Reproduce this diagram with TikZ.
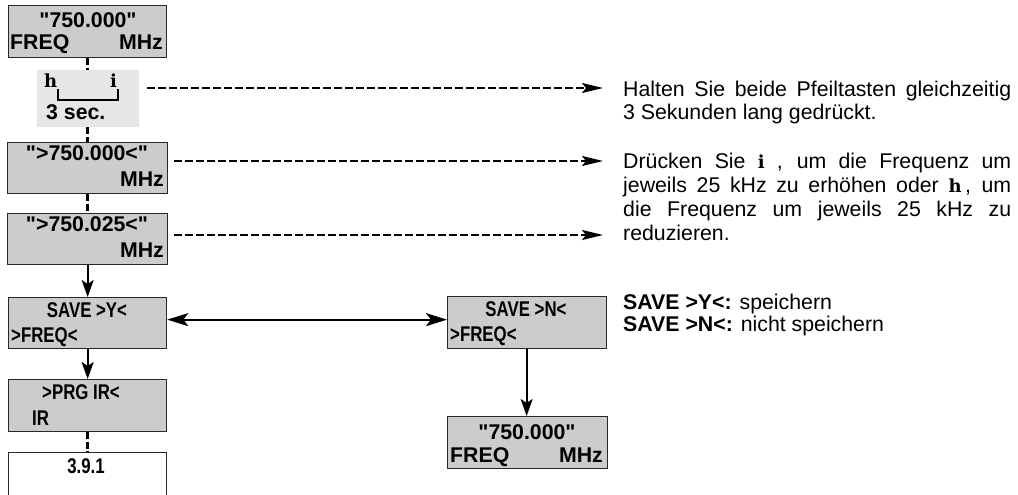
\documentclass[tikz,border=0pt]{standalone}
\usepackage{fontspec}
\usetikzlibrary{arrows.meta}
\newfontfamily\plainsf{Liberation Sans}
\newfontfamily\condsf[FakeStretch=0.79]{Liberation Sans}
\newfontfamily\keyserif{DejaVu Serif}
\newcommand\keyglyph[1]{{\keyserif\bfseries\fontsize{18}{24}\selectfont #1}}
\definecolor{boxgray}{RGB}{204,204,204}
\definecolor{lightbox}{RGB}{230,230,230}
\definecolor{edge}{RGB}{40,40,40}
\tikzset{
  lcdbox/.style={draw=edge, line width=1.3pt, fill=boxgray, inner sep=0pt, anchor=north west},
  plainbox/.style={draw=edge, line width=1.3pt, fill=white, inner sep=0pt, anchor=north west},
  keybox/.style={fill=lightbox, inner sep=0pt, anchor=north west},
  wtxt/.style={inner sep=0pt, font=\plainsf\bfseries\fontsize{21.3}{24}\selectfont},
  ntxt/.style={inner sep=0pt, font=\condsf\bfseries\fontsize{21.3}{24}\selectfont},
  rtxt/.style={inner sep=0pt, anchor=base west, font=\plainsf\fontsize{21.3}{24}\selectfont},
  dashlink/.style={line width=2.4pt, dash pattern=on 7pt off 2.5pt},
  solidarrow/.style={line width=2pt, -{Stealth[length=17pt,width=12pt,inset=4pt]}},
  dasharrow/.style={line width=2pt, dash pattern=on 8pt off 3pt, -{Stealth[length=21pt,width=10pt,inset=4pt]}},
  twoarrow/.style={line width=2pt, {Stealth[length=21pt,width=13pt,inset=5pt]}-{Stealth[length=21pt,width=13pt,inset=5pt]}}
}
\begin{document}
\begin{tikzpicture}[x=1pt,y=-1pt]
\clip (0,0) rectangle (1018,495);
\fill[white] (0,0) rectangle (1018,495);

% left column
\node[lcdbox, minimum width=158pt, minimum height=52pt] (b1) at (8,5) {};
\node[wtxt, anchor=base] (b1a) at (88,28) {"750.000"};
\node[wtxt, anchor=base west] (b1b) at (10,50) {FREQ};
\node[wtxt, anchor=base east] (b1c) at (163,50) {MHz};

\node[keybox, minimum width=102pt, minimum height=57pt] (k) at (37,70) {};
\node[inner sep=0pt, anchor=base west] (kh) at (44,88) {\keyglyph{h}};
\node[inner sep=0pt, anchor=base west] (ki) at (110,88) {\keyglyph{i}};
\draw[line width=1.6pt] ([xshift=0.5pt,yshift=-1pt]kh.base east) -- ++(0,11) -| ([xshift=1pt,yshift=-1pt]ki.base east);
\node[wtxt, anchor=base west] (ks) at (46,120) {3 sec.};

\node[lcdbox, minimum width=160pt, minimum height=51pt] (b2) at (7,142) {};
\node[wtxt, anchor=base] (b2a) at (87,160) {">750.000<"};
\node[wtxt, anchor=base east] (b2b) at (164,186) {MHz};

\node[lcdbox, minimum width=160pt, minimum height=51pt] (b3) at (7,213) {};
\node[wtxt, anchor=base] (b3a) at (87,231) {">750.025<"};
\node[wtxt, anchor=base east] (b3b) at (164,257) {MHz};

\node[lcdbox, minimum width=158pt, minimum height=51pt] (sy) at (8,297) {};
\node[ntxt, anchor=base] (sya) at (87,317) {SAVE >Y<};
\node[ntxt, anchor=base west] (syb) at (11,342) {>FREQ<};

\node[lcdbox, minimum width=158pt, minimum height=52pt] (prg) at (8,379) {};
\node[ntxt, anchor=base west] (prga) at (42,399) {>PRG IR<};
\node[ntxt, anchor=base west] (prgb) at (32,425) {IR};

\node[plainbox, minimum width=158pt, minimum height=60pt] (end) at (8,452) {};
\node[ntxt, anchor=base] (enda) at (86,473) {3.9.1};

% right column
\node[lcdbox, minimum width=159pt, minimum height=52pt] (sn) at (447,296) {};
\node[ntxt, anchor=base] (sna) at (526,316) {SAVE >N<};
\node[ntxt, anchor=base west] (snb) at (450,341) {>FREQ<};

\node[lcdbox, minimum width=160pt, minimum height=52pt] (fin) at (447,416) {};
\node[wtxt, anchor=base] (fina) at (527,439) {"750.000"};
\node[wtxt, anchor=base west] (finb) at (450,462) {FREQ};
\node[wtxt, anchor=base east] (finc) at (603,462) {MHz};

% vertical connectors
\draw[dashlink] (b1.south) -- (b1.south |- k.north);
\draw[dashlink] (b1.south |- k.south) -- (b1.south |- b2.north);
\draw[dashlink] (b1.south |- b2.south) -- (b1.south |- b3.north);
\draw[solidarrow] (b1.south |- b3.south) -- (b1.south |- sy.north);
\draw[solidarrow] (b1.south |- sy.south) -- (b1.south |- prg.north);
\draw[dashlink] (b1.south |- prg.south) -- (b1.south |- end.north);
\draw[solidarrow] ([xshift=-0.5pt]sn.south) -- ([xshift=-0.5pt]sn.south |- fin.north);
\draw[twoarrow] ([yshift=3.5pt]sy.east) -- ([yshift=3.5pt]sy.east -| sn.west);

% explanation arrows
\coordinate (t1) at (603,88);
\coordinate (t2) at (603,161);
\coordinate (t3) at (603,235);
\draw[dasharrow, shorten <=8pt] (k.east |- t1) -- (t1);
\draw[dasharrow, shorten <=6pt] (b2.east |- t2) -- (t2);
\draw[dasharrow, shorten <=6pt] (b3.east |- t3) -- (t3);

% explanation texts
\node[rtxt] (p1) at (623,96) {\parbox[t]{388pt}{\makebox[388pt][s]{Halten Sie beide Pfeiltasten gleichzeitig}\\3 Sekunden lang gedrückt.}};
\node[rtxt] (p2) at (623,168) {\parbox[t]{388pt}{\makebox[388pt][s]{Drücken Sie \keyglyph{i} , um die Frequenz um}\\\makebox[388pt][s]{jeweils 25 kHz zu erhöhen oder \keyglyph{h}\,, um}\\\makebox[388pt][s]{die Frequenz um jeweils 25 kHz zu}\\reduzieren.}};
\node[rtxt] (s1) at (623,309) {\textbf{SAVE >Y<:} speichern};
\node[rtxt] (s2) at (623,331) {\textbf{SAVE >N<:} nicht speichern};
\end{tikzpicture}
\end{document}
